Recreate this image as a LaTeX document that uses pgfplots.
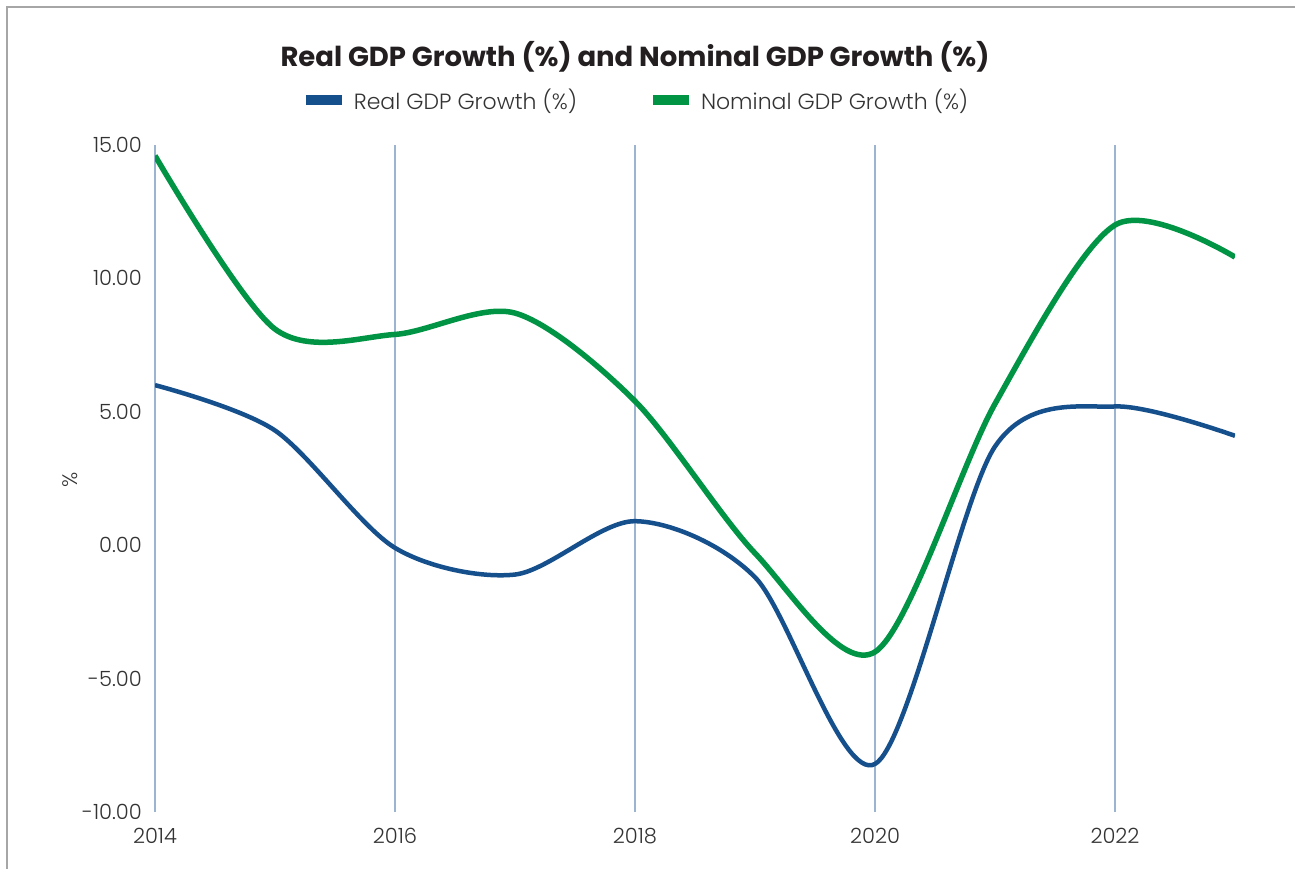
\documentclass[border=0pt]{standalone}
\usepackage{pgfplots}
\pgfplotsset{compat=1.18}
\usepackage{pgfplotstable}
\usepackage{fontspec}
\setmainfont{Poppins}
\newfontfamily\lightfont{Poppins Light}

\definecolor{realblue}{RGB}{22,80,140}
\definecolor{nomgreen}{RGB}{0,148,68}
\definecolor{gridblue}{RGB}{155,180,208}
\definecolor{framegray}{RGB}{166,166,166}
\definecolor{titleblack}{RGB}{35,31,32}
\definecolor{labelgray}{RGB}{51,51,51}

% Annual growth rates, in percent
\pgfplotstableread{
year  real  nominal
2014   6.0   14.6
2015   4.3    8.1
2016  -0.1    7.9
2017  -1.1    8.7
2018   0.9    5.4
2019  -1.2   -0.3
2020  -8.2   -4.0
2021   3.7    5.3
2022   5.2   12.0
2023   4.1   10.8
}\gdpdata

\begin{document}
\begin{tikzpicture}[x=1pt,y=1pt]
  \path[use as bounding box] (0,0) rectangle (1295,868);
  % outer frame of the chart card
  \draw[framegray, line width=2pt] (7,-10) -- (7,861) -- (1310,861);
  % title
  \node[anchor=base, text=titleblack, font=\bfseries\fontsize{27.5}{32}\selectfont]
    at (635,801) {Real GDP Growth (\%) and Nominal GDP Growth (\%)};

  \begin{axis}[
    at={(155pt,56pt)}, anchor=south west,
    scale only axis, width=1080pt, height=667pt,
    xmin=2014, xmax=2023, ymin=-10, ymax=15,
    axis line style={draw=none},
    major tick length=0pt,
    xtick={2014,2016,2018,2020,2022},
    xticklabels={2014,2016,2018,2020,2022},
    ytick={-10,-5,0,5,10,15},
    yticklabels={-10.00,-5.00,0.00,5.00,10.00,15.00},
    xmajorgrids,
    major grid style={gridblue, line width=1.7pt},
    xticklabel style={anchor=north, inner sep=0pt, yshift=-16pt,
      font=\lightfont\fontsize{21}{25}\selectfont, text=labelgray},
    yticklabel style={anchor=east, inner sep=0pt, xshift=-13pt,
      font=\lightfont\fontsize{21}{25}\selectfont, text=labelgray},
    ylabel={\%},
    every axis y label/.style={at={(axis description cs:-0.0787,0.498)},
      anchor=center, rotate=90,
      font=\lightfont\fontsize{21}{25}\selectfont, text=labelgray},
    legend columns=2,
    legend style={at={(rel axis cs:0.4519,1.0675)}, anchor=center,
      draw=none, fill=none, inner sep=0pt,
      font=\lightfont\fontsize{22}{26}\selectfont, text=labelgray,
      nodes={inner xsep=12pt, inner ysep=0pt},
      /tikz/every even column/.append style={column sep=64pt}},
    legend image code/.code={
      \path[#1, fill, draw=none] (0pt,-5pt) rectangle (36pt,5pt);},
    legend cell align=left,
  ]
    \addplot[realblue, line width=4.5pt, smooth] table[x=year, y=real] {\gdpdata};
    \addlegendentry{Real GDP Growth (\%)}
    \addplot[nomgreen, line width=5.5pt, smooth] table[x=year, y=nominal] {\gdpdata};
    \addlegendentry{Nominal GDP Growth (\%)}
  \end{axis}
\end{tikzpicture}
\end{document}
